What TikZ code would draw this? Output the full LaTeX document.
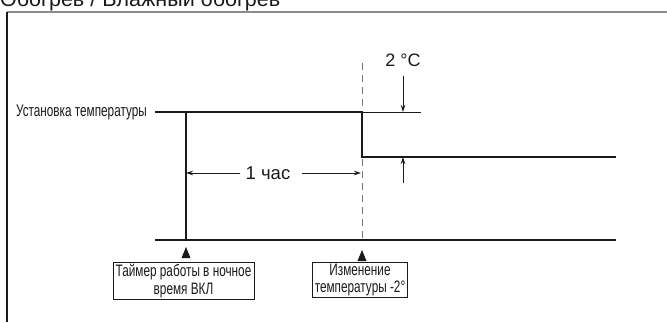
\documentclass[tikz,border=0pt]{standalone}
\usepackage{fontspec}
\setmainfont{Liberation Sans}
\newfontfamily\narrowfont[FakeStretch=0.7]{Liberation Sans}
\newfontfamily\boxfont[FakeStretch=0.71]{Liberation Sans}
\usetikzlibrary{arrows.meta, positioning, calc}
\definecolor{ink}{HTML}{1A1A1A}
\definecolor{framegray}{HTML}{8C8C8C}
\definecolor{dashgray}{HTML}{7A7A7A}

\begin{document}
\begin{tikzpicture}[x=1pt, y=-1pt, >={Stealth[length=7pt, width=4.5pt]},
  level/.style={ink, line width=2.6pt},
  thinline/.style={ink, line width=0.9pt},
  lbl/.style={font=\narrowfont\fontsize{16.8}{18}\selectfont, text=ink, inner sep=0pt},
  evbox/.style={draw=ink, line width=1pt, font=\boxfont\fontsize{16.6}{17.5}\selectfont,
                align=center, inner xsep=2pt, inner ysep=1.5pt, text=ink},
  marker/.style={fill=ink}]

\useasboundingbox (0,0) rectangle (667,322);

% Title (cut by the page edge)
\node[anchor=base west, font=\fontsize{21.5}{23}\selectfont, text=ink, inner sep=0pt]
  (title) at (0,6) {Обогрев / Влажный обогрев};

% Frame
\draw[framegray, line width=2pt] (7,12) -- (667,12);
\draw[ink, line width=1.4pt] (7,12) -- (7,322);

% Key points
\coordinate (stepT) at (362,112);
\coordinate (stepB) at (362,157);
\coordinate (lowR) at (616,157);
\coordinate (refR) at (421,112);
\coordinate (baseL) at (155,240);
\coordinate (baseR) at (616,240);
\coordinate (timerT) at (186,112);
\coordinate (timerB) at (186,240);
\coordinate (dashT) at (362,63);
\coordinate (dashB) at (362,240);

% Time axis
\draw[dashgray, line width=1pt, dash pattern=on 7pt off 5pt] (dashT) -- (dashB);
\draw[level] (baseL) -- (baseR);
\draw[thinline, line width=1.1pt] (timerT) -- (timerB);

% Set temperature level
\node[lbl, anchor=east] (setlbl) at (147,112) {Установка температуры};
\draw[level] ([xshift=8pt]setlbl.east) -- (stepT) -- (stepB) -- (lowR);
\draw[thinline] (stepT) -- (refR);

% 1 hour
\node[font=\fontsize{18.5}{20}\selectfont, text=ink, inner xsep=5pt, inner ysep=0pt]
  (hour) at (268,173) {1 час};
\draw[thinline, ->] (hour.west) -- (timerB |- hour);
\draw[thinline, ->] ([xshift=6pt]hour.east) -- ([xshift=-1pt]dashB |- hour);

% 2 degrees
\node[font=\fontsize{18}{20}\selectfont, text=ink, inner sep=0pt] (dlbl) at (403,60) {2 °C};
\coordinate (upS) at (403,183);
\draw[thinline, ->] ($(dlbl.south)+(0,9)$) -- (dlbl.south |- refR);
\draw[thinline, ->] (upS) -- (upS |- lowR);

% Events
\node[evbox, minimum width=141pt, minimum height=37pt] (timerbox) at (183.5,281)
  {Таймер работы в ночное\\время ВКЛ};
\node[evbox, minimum width=94pt, minimum height=34pt] (changebox) at (360,280)
  {Изменение\\температуры -2°};
\fill[marker] ($(timerB)+(0,7)$) -- ($(timerB)+(-4.5,18)$) -- ($(timerB)+(4.5,18)$) -- cycle;
\fill[marker] ($(dashB)+(0,10)$) -- ($(dashB)+(-4.5,21)$) -- ($(dashB)+(4.5,21)$) -- cycle;

\end{tikzpicture}
\end{document}
